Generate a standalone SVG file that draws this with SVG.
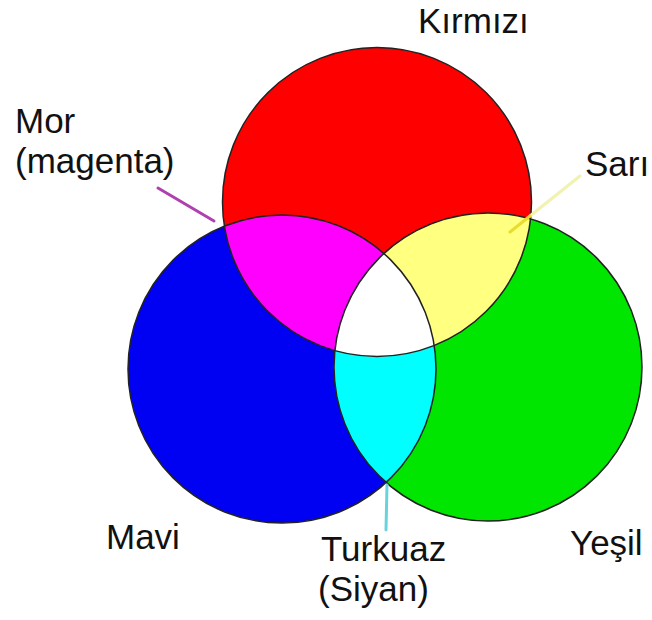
<svg xmlns="http://www.w3.org/2000/svg" width="652" height="620" viewBox="0 0 652 620">
  <style>
    .lbl { font-family: "Liberation Sans", Arial, sans-serif; font-size: 35px; fill: #111; }
    .edge { fill: none; stroke: #222; stroke-width: 1.5; }
    .lead { fill: none; stroke-width: 3; stroke-linecap: round; }
  </style>
  <defs>
    <clipPath id="cRed"><circle cx="377" cy="202" r="154.5"/></clipPath>
    <clipPath id="cBlue"><circle cx="282" cy="369" r="154"/></clipPath>
    <clipPath id="cGreen"><circle cx="488" cy="367" r="154"/></clipPath>
  </defs>
  <rect width="652" height="620" fill="#ffffff"/>

  <g id="blue-circle">
    <circle cx="282" cy="369" r="154" fill="#0000f2"/>
  </g>
  <g id="green-circle">
    <circle cx="488" cy="367" r="154" fill="#00e600"/>
  </g>
  <g id="red-circle">
    <circle cx="377" cy="202" r="154.5" fill="#ff0000"/>
  </g>
  <g id="magenta-region">
    <circle cx="282" cy="369" r="154" fill="#ff00ff" clip-path="url(#cRed)"/>
  </g>
  <g id="yellow-region">
    <circle cx="488" cy="367" r="154" fill="#ffff80" clip-path="url(#cRed)"/>
  </g>
  <g id="cyan-region">
    <circle cx="488" cy="367" r="154" fill="#00ffff" clip-path="url(#cBlue)"/>
  </g>
  <g id="white-region" clip-path="url(#cRed)">
    <circle cx="488" cy="367" r="154" fill="#ffffff" clip-path="url(#cBlue)"/>
  </g>
  <g id="outlines">
    <circle class="edge" cx="282" cy="369" r="154"/>
    <circle class="edge" cx="488" cy="367" r="154"/>
    <circle class="edge" cx="377" cy="202" r="154.5"/>
  </g>

  <g id="connectors">
    <line class="lead" x1="158" y1="188" x2="214" y2="221" stroke="#b040b0"/>
    <line class="lead" x1="580" y1="176" x2="530" y2="216" stroke="#f2f2b0"/>
    <line class="lead" x1="530" y1="216" x2="510" y2="232" stroke="#e8dc30"/>
    <line class="lead" x1="387" y1="485" x2="386" y2="530" stroke="#66d4dc"/>
  </g>

  <g id="label-kirmizi"><text class="lbl" x="418" y="33">Kırmızı</text></g>
  <g id="label-mor"><text class="lbl" x="15" y="133">Mor</text><text class="lbl" x="15" y="173">(magenta)</text></g>
  <g id="label-sari"><text class="lbl" x="585" y="176">Sarı</text></g>
  <g id="label-mavi"><text class="lbl" x="106" y="549">Mavi</text></g>
  <g id="label-yesil"><text class="lbl" x="570" y="555">Yeşil</text></g>
  <g id="label-turkuaz"><text class="lbl" x="321" y="561">Turkuaz</text><text class="lbl" x="318" y="601">(Siyan)</text></g>
</svg>
